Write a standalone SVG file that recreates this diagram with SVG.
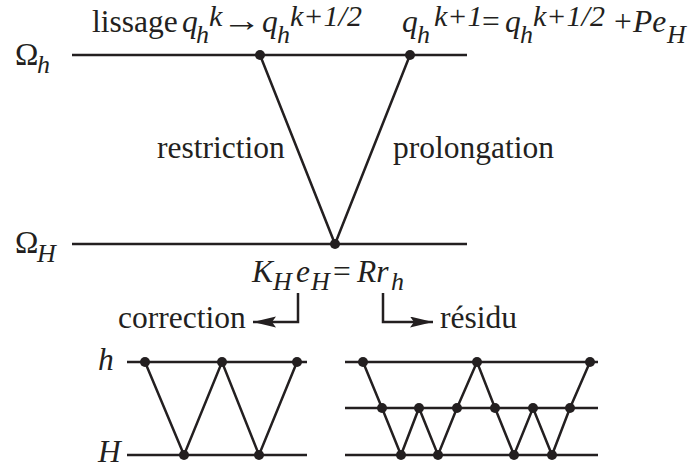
<svg xmlns="http://www.w3.org/2000/svg" width="688" height="468" viewBox="0 0 688 468">
<style>
text{font-family:"Liberation Serif","Times New Roman","DejaVu Serif",serif;font-size:31.5px;fill:#231f20}
.i{font-style:italic}
.s{font-size:26px;font-style:italic}
.p{font-size:30px;font-style:italic}
.ln{stroke:#231f20;stroke-width:2.5;fill:none}
.dot{fill:#231f20}
</style>
<defs>
<marker id="ah" markerUnits="userSpaceOnUse" markerWidth="24" markerHeight="12" refX="23" refY="5.5" orient="auto">
<path d="M0,0 L23,5.5 L0,11 L4,5.5 z" fill="#231f20"/>
</marker>
</defs>

<g id="omega-h">
<text x="15" y="65">Ω</text><text class="s" x="37" y="73">h</text>
<line class="ln" x1="72" y1="55" x2="467" y2="55"/>
<circle class="dot" cx="260" cy="55" r="5"/>
<circle class="dot" cx="410" cy="55" r="5"/>
</g>
<g id="omega-H">
<text x="15" y="253">Ω</text><text class="s" x="37" y="262">H</text>
<line class="ln" x1="72" y1="244" x2="467" y2="244"/>
<circle class="dot" cx="335" cy="244" r="5"/>
</g>

<g id="label-lissage">
<text x="92" y="32">lissage</text>
<text class="i" x="182" y="32">q</text><text class="s" x="196" y="43">h</text><text class="p" x="209" y="26">k</text>
<text transform="translate(222,31) scale(1.25,1)" x="0" y="0">→</text>
<text class="i" x="262" y="32">q</text><text class="s" x="277" y="43">h</text><text class="p" x="290" y="26">k+1/2</text>
</g>
<g id="label-update">
<text class="i" x="402" y="32">q</text><text class="s" x="417" y="43">h</text><text class="p" x="434" y="26">k+1</text>
<text x="482" y="32">=</text>
<text class="i" x="505" y="32">q</text><text class="s" x="520" y="43">h</text><text class="p" x="533" y="26">k+1/2</text>
<text x="614" y="32">+</text>
<text class="i" x="633" y="32">Pe</text><text class="s" x="667" y="43">H</text>
</g>

<g id="label-restriction"><text x="157" y="158">restriction</text></g>
<g id="label-prolongation"><text x="393" y="158">prolongation</text></g>

<g id="label-equation">
<text class="i" x="252" y="282">K</text><text class="s" x="273" y="290">H</text>
<text class="i" x="296" y="282">e</text><text class="s" x="311" y="290">H</text>
<text x="333" y="282">=</text>
<text class="i" x="357" y="282">Rr</text><text class="s" x="391" y="290">h</text>
</g>
<g id="label-correction"><text x="118" y="328">correction</text></g>
<g id="label-residu"><text x="440" y="328">résidu</text></g>

<g id="connectors">
<polyline class="ln" points="260,55 335,244 410,55"/>
<polyline class="ln" points="298,293 298,322 253,322" marker-end="url(#ah)"/>
<polyline class="ln" points="383,293 383,322 433,322" marker-end="url(#ah)"/>
</g>

<g id="grid-two-level">
<text class="i" x="98" y="370">h</text>
<text class="i" x="98" y="462">H</text>
<line class="ln" x1="127" y1="362" x2="307" y2="362"/>
<line class="ln" x1="127" y1="455" x2="307" y2="455"/>
<polyline class="ln" points="145,362 184,455 222,362 259,455 297,362"/>
<circle class="dot" cx="145" cy="362" r="5"/>
<circle class="dot" cx="222" cy="362" r="5"/>
<circle class="dot" cx="297" cy="362" r="5"/>
<circle class="dot" cx="184" cy="455" r="5"/>
<circle class="dot" cx="259" cy="455" r="5"/>
</g>

<g id="grid-three-level">
<line class="ln" x1="345" y1="362" x2="598" y2="362"/>
<line class="ln" x1="345" y1="408" x2="598" y2="408"/>
<line class="ln" x1="345" y1="455" x2="598" y2="455"/>
<polyline class="ln" points="363,362 382,408 401,455 419,408 438,455 457,408 477,362 495,408 514,455 533,408 552,455 570,408 590,362"/>
<circle class="dot" cx="363" cy="362" r="5"/>
<circle class="dot" cx="477" cy="362" r="5"/>
<circle class="dot" cx="590" cy="362" r="5"/>
<circle class="dot" cx="382" cy="408" r="5"/>
<circle class="dot" cx="419" cy="408" r="5"/>
<circle class="dot" cx="457" cy="408" r="5"/>
<circle class="dot" cx="495" cy="408" r="5"/>
<circle class="dot" cx="533" cy="408" r="5"/>
<circle class="dot" cx="570" cy="408" r="5"/>
<circle class="dot" cx="401" cy="455" r="5"/>
<circle class="dot" cx="438" cy="455" r="5"/>
<circle class="dot" cx="514" cy="455" r="5"/>
<circle class="dot" cx="552" cy="455" r="5"/>
</g>
</svg>
